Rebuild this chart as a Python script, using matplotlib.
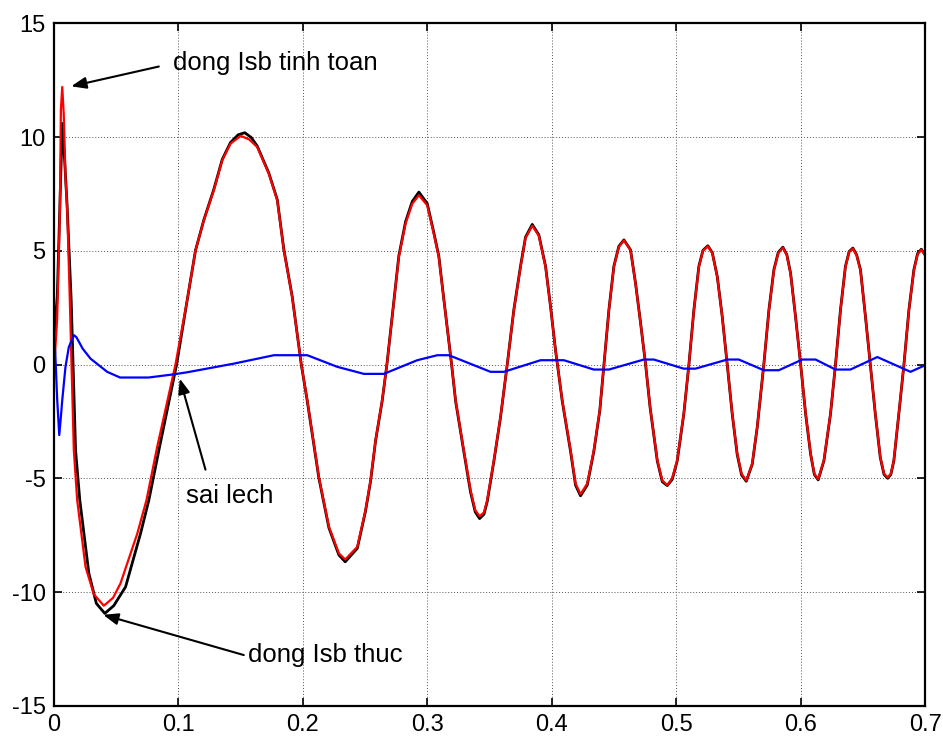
import matplotlib
matplotlib.use("Agg")
import matplotlib.pyplot as plt
from matplotlib.ticker import FuncFormatter

plt.rcParams['font.family'] = ['Liberation Sans', 'DejaVu Sans']
plt.rcParams['axes.unicode_minus'] = False

# Measured current Isb (black)
t_meas = [0.0, 0.0026, 0.0047, 0.0066, 0.0085, 0.0105, 0.0138, 0.0173, 0.0207, 0.028,
          0.034, 0.0408, 0.048, 0.0575, 0.0695, 0.0762, 0.0845, 0.0985, 0.107, 0.1137,
          0.1204, 0.1284, 0.1352, 0.1418, 0.148, 0.1533, 0.1585, 0.1633, 0.1726, 0.1794,
          0.1847, 0.1914, 0.1987, 0.2035, 0.2128, 0.2209, 0.2289, 0.234, 0.2437, 0.2503,
          0.2544, 0.2584, 0.2637, 0.2675, 0.2771, 0.2825, 0.2879, 0.2932, 0.2999, 0.3052,
          0.3092, 0.3133, 0.3195, 0.3227, 0.3293, 0.3347, 0.3385, 0.342, 0.3455, 0.3481,
          0.3535, 0.3588, 0.3642, 0.3695, 0.3749, 0.3789, 0.3843, 0.3896, 0.395, 0.399,
          0.403, 0.4084, 0.4151, 0.4191, 0.4231, 0.4285, 0.4338, 0.4386, 0.4419, 0.4459,
          0.4499, 0.4539, 0.458, 0.4633, 0.4673, 0.4714, 0.4754, 0.479, 0.4848, 0.4888,
          0.4928, 0.4968, 0.5008, 0.5061, 0.5102, 0.5142, 0.5182, 0.5215, 0.5254, 0.529,
          0.533, 0.537, 0.541, 0.545, 0.549, 0.5525, 0.5563, 0.5611, 0.5651, 0.5704,
          0.5745, 0.5785, 0.582, 0.5857, 0.5889, 0.5919, 0.5959, 0.600, 0.604, 0.608,
          0.611, 0.6141, 0.6187, 0.624, 0.628, 0.632, 0.636, 0.639, 0.642, 0.645,
          0.6481, 0.6521, 0.656, 0.660, 0.664, 0.667, 0.670, 0.6725, 0.6749, 0.6789,
          0.683, 0.687, 0.691, 0.694, 0.697, 0.700]
i_meas = [1.2, 3.0, 7.0, 10.6, 9.0, 7.0, 2.8, -3.76, -5.96, -9.18,
          -10.5, -10.94, -10.6, -9.77, -7.43, -5.96, -3.7, 0.0, 2.83, 5.02,
          6.36, 7.7, 9.02, 9.76, 10.1, 10.19, 9.98, 9.6, 8.42, 7.25,
          5.05, 2.99, 0.0, -1.6, -4.98, -7.18, -8.37, -8.67, -8.08, -6.45,
          -5.12, -3.35, -1.6, 0.0, 4.78, 6.28, 7.17, 7.58, 7.08, 5.8,
          4.77, 2.85, 0.0, -1.6, -3.82, -5.6, -6.48, -6.77, -6.58, -6.03,
          -4.24, -2.32, 0.0, 2.4, 4.33, 5.6, 6.16, 5.7, 4.32, 2.55,
          0.64, -1.6, -3.82, -5.3, -5.77, -5.3, -3.82, -2.02, 0.0, 2.4,
          4.32, 5.2, 5.48, 5.04, 3.58, 1.81, 0.0, -1.88, -4.24, -5.15,
          -5.32, -5.05, -4.24, -2.17, 0.0, 2.4, 4.32, 5.02, 5.22, 4.92,
          3.87, 2.1, 0.0, -2.17, -3.95, -4.85, -5.13, -4.38, -2.76, 0.0,
          2.4, 4.17, 4.93, 5.16, 4.83, 4.02, 2.1, 0.0, -2.17, -3.94,
          -4.83, -5.07, -4.23, -2.17, 0.0, 2.4, 4.32, 4.97, 5.12, 4.82,
          4.16, 2.1, 0.0, -2.17, -4.09, -4.83, -5.0, -4.83, -4.23, -2.17,
          0.0, 2.4, 4.17, 4.88, 5.07, 4.82]

# Calculated current Isb (red)
t_calc = [0.0, 0.0025, 0.0047, 0.0055, 0.0066, 0.0078, 0.0092, 0.0106, 0.0127, 0.0159,
          0.0186, 0.0253, 0.032, 0.040, 0.0475, 0.0534, 0.0669, 0.0743, 0.0829, 0.0976,
          0.107, 0.1137, 0.1204, 0.1284, 0.1352, 0.1418, 0.150, 0.1567, 0.1633, 0.1726,
          0.1794, 0.1847, 0.1914, 0.1987, 0.2035, 0.2128, 0.2209, 0.2289, 0.234, 0.2437,
          0.2503, 0.2544, 0.2584, 0.2637, 0.2675, 0.2771, 0.2825, 0.2879, 0.2932, 0.2999,
          0.3052, 0.3092, 0.3133, 0.3195, 0.3227, 0.3293, 0.3347, 0.3385, 0.342, 0.3455,
          0.3481, 0.3535, 0.3588, 0.3642, 0.3695, 0.3749, 0.3789, 0.3843, 0.3896, 0.395,
          0.399, 0.403, 0.4084, 0.4151, 0.4191, 0.4231, 0.4285, 0.4338, 0.4386, 0.4419,
          0.4459, 0.4499, 0.4539, 0.458, 0.4633, 0.4673, 0.4714, 0.4754, 0.479, 0.4848,
          0.4888, 0.4928, 0.4968, 0.5008, 0.5061, 0.5102, 0.5142, 0.5182, 0.5215, 0.5254,
          0.529, 0.533, 0.537, 0.541, 0.545, 0.549, 0.5525, 0.5563, 0.5611, 0.5651,
          0.5704, 0.5745, 0.5785, 0.582, 0.5857, 0.5889, 0.5919, 0.5959, 0.600, 0.604,
          0.608, 0.611, 0.6141, 0.6187, 0.624, 0.628, 0.632, 0.636, 0.639, 0.642,
          0.645, 0.6481, 0.6521, 0.656, 0.660, 0.664, 0.667, 0.670, 0.6725, 0.6749,
          0.6789, 0.683, 0.687, 0.691, 0.694, 0.697, 0.700]
i_calc = [-0.2, 2.0, 6.8, 11.2, 12.2, 11.0, 8.24, 6.78, 2.8, -3.76,
          -5.96, -8.89, -10.1, -10.6, -10.25, -9.62, -7.43, -5.96, -3.62, 0.0,
          2.83, 5.02, 6.34, 7.66, 8.98, 9.71, 10.05, 9.9, 9.56, 8.39,
          7.22, 5.02, 2.97, 0.0, -1.57, -4.94, -7.13, -8.30, -8.57, -8.01,
          -6.4, -5.08, -3.33, -1.57, 0.0, 4.73, 6.2, 7.07, 7.44, 7.0,
          5.75, 4.73, 2.83, 0.0, -1.57, -3.77, -5.52, -6.4, -6.67, -6.5,
          -5.96, -4.2, -2.3, 0.0, 2.38, 4.29, 5.56, 6.1, 5.66, 4.29,
          2.53, 0.63, -1.57, -3.77, -5.23, -5.7, -5.23, -3.77, -2.0, 0.0,
          2.38, 4.29, 5.17, 5.46, 5.02, 3.56, 1.80, 0.0, -1.86, -4.2,
          -5.1, -5.3, -5.0, -4.2, -2.15, 0.0, 2.38, 4.29, 5.0, 5.2,
          4.9, 3.85, 2.09, 0.0, -2.15, -3.91, -4.8, -5.1, -4.35, -2.74,
          0.0, 2.38, 4.14, 4.9, 5.14, 4.8, 4.0, 2.09, 0.0, -2.15,
          -3.91, -4.8, -5.04, -4.2, -2.15, 0.0, 2.38, 4.29, 4.95, 5.1,
          4.8, 4.14, 2.09, 0.0, -2.15, -4.06, -4.8, -4.97, -4.8, -4.2,
          -2.15, 0.0, 2.38, 4.14, 4.85, 5.05, 4.8]

# Deviation between the two (blue)
t_err = [0.0, 0.001, 0.0025, 0.0042, 0.0055, 0.0066, 0.0092, 0.0119, 0.016, 0.018,
         0.023, 0.0293, 0.036, 0.0427, 0.053, 0.076, 0.0963, 0.107, 0.1445, 0.1767,
         0.2035, 0.2276, 0.249, 0.265, 0.2919, 0.308, 0.3173, 0.3508, 0.3615, 0.391,
         0.4097, 0.4338, 0.4459, 0.474, 0.482, 0.506, 0.5155, 0.541, 0.5503, 0.5704,
         0.5825, 0.6013, 0.612, 0.628, 0.640, 0.6616, 0.6883, 0.700]
i_err = [1.37, 0.5, -1.5, -3.1, -2.3, -1.57, -0.1, 0.77, 1.29, 1.2,
         0.7, 0.26, -0.03, -0.32, -0.57, -0.57, -0.43, -0.34, 0.04, 0.41,
         0.41, -0.1, -0.41, -0.41, 0.19, 0.41, 0.41, -0.32, -0.32, 0.19,
         0.19, -0.22, -0.22, 0.22, 0.22, -0.18, -0.18, 0.22, 0.22, -0.25,
         -0.25, 0.22, 0.22, -0.22, -0.22, 0.33, -0.32, -0.03]

x_ticks = [0, 0.1, 0.2, 0.3, 0.4, 0.5, 0.6, 0.7]
y_ticks = [-15, -10, -5, 0, 5, 10, 15]

fig = plt.figure(figsize=(9.43, 7.42), dpi=100)
ax = fig.add_axes([0.0573, 0.0488, 0.9237, 0.9198])

ax.plot(t_meas, i_meas, color='black', lw=2.0)
ax.plot(t_calc, i_calc, color='#ff0000', lw=1.6)
ax.plot(t_err, i_err, color='#0000ff', lw=1.6)

ax.set_xlim(0, 0.7)
ax.set_ylim(-15, 15)
ax.set_xticks(x_ticks)
ax.set_yticks(y_ticks)
ax.xaxis.set_major_formatter(FuncFormatter(lambda v, p: f"{v:g}"))
ax.grid(True, color='#555555', linestyle=(0, (1, 2)), linewidth=0.7)
ax.tick_params(direction='in', length=6, width=1.2, labelsize=17, top=True, right=True,
               labeltop=False, labelright=False, pad=6)
for s in ax.spines.values():
    s.set_linewidth(1.6)

arrow = dict(arrowstyle='-|>,head_length=0.9,head_width=0.35', color='black', lw=1.5,
             shrinkA=0, shrinkB=0)
label_size = 18.5

# Annotation arrows (tail -> head) and their labels
ax.annotate('', xy=(0.0138, 12.23), xytext=(0.0842, 13.1), arrowprops=arrow)
ax.text(0.0955, 13.25, 'dong Isb tinh toan', fontsize=label_size, va='center', ha='left')

ax.annotate('', xy=(0.1011, -0.62), xytext=(0.1217, -4.62), arrowprops=arrow)
ax.text(0.106, -5.8, 'sai lech', fontsize=label_size, va='center', ha='left')

ax.annotate('', xy=(0.0395, -11.0), xytext=(0.1525, -12.77), arrowprops=arrow)
ax.text(0.1555, -12.75, 'dong Isb thuc', fontsize=label_size, va='center', ha='left')

fig.savefig('out.png', dpi=100)
